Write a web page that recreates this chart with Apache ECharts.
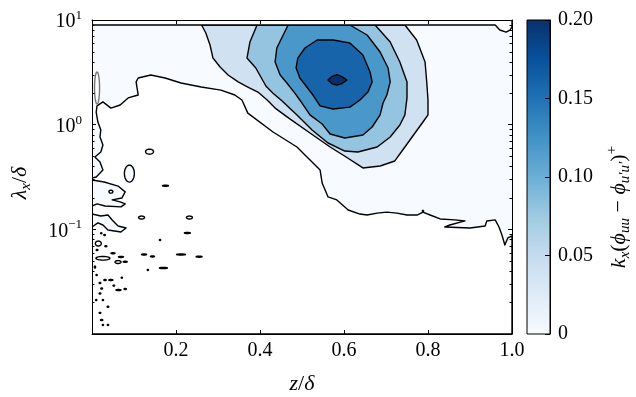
<!DOCTYPE html>
<html><head><meta charset="utf-8">
<script src="https://cdn.jsdelivr.net/npm/echarts@6/dist/echarts.min.js"></script>
<style>html,body{margin:0;padding:0;background:#fff}#c{width:636px;height:397px}</style>
</head><body><div id="c"></div>
<script>
// ---------- axes / ticks ----------
const xTickValues = [0, 0.2, 0.4, 0.6, 0.8, 1.0];
const yDecades = [0.01, 0.1, 1, 10];
const yMinorMantissas = [2, 3, 4, 5, 6, 7, 8, 9];
const colorbarTicks = [0, 0.05, 0.10, 0.15, 0.20];
const levelColors = ['#f7fbff', '#d0e1f2', '#94c4df', '#4a98c9', '#1764ab', '#08306b'];
const bluesStops = ['#f7fbff','#deebf7','#c6dbef','#9ecae1','#6baed6','#4292c6','#2171b5','#08519c','#08306b'];

// ---------- contour data: [z/delta, lambda_x/delta] ----------
// region where the value is below 0 (unfilled, white)
const negativeRegion = [[0,0.309],[0.010,0.316],[0.026,0.369],[0.019,0.440],[0.007,0.491],[0.021,0.548],[0.026,0.640],[0.019,0.763],[0.021,0.889],[0.014,1.060],[0.010,1.32],[0.012,1.51],[0.026,1.65],[0.045,1.44],[0.067,1.54],[0.086,1.80],[0.110,1.92],[0.105,2.56],[0.110,2.79],[0.140,2.98],[0.174,2.79],[0.212,2.50],[0.260,2.29],[0.307,2.14],[0.340,1.92],[0.357,1.72],[0.371,1.29],[0.431,0.851],[0.488,0.612],[0.543,0.369],[0.548,0.277],[0.562,0.204],[0.583,0.191],[0.610,0.153],[0.638,0.140],[0.655,0.137],[0.679,0.143],[0.702,0.146],[0.726,0.143],[0.750,0.137],[0.774,0.137],[0.788,0.146],[0.805,0.137],[0.829,0.1257],[0.864,0.123],[0.888,0.1203],[0.852,0.110],[0.840,0.1053],[0.900,0.1030],[0.936,0.1076],[0.940,0.1203],[0.960,0.123],[0.969,0.1053],[0.976,0.0883],[0.983,0.0708],[0.990,0.0827],[1.0,0.0864],[1.0,0.01],[0,0.01]];
// positive (lowest band) lobes along the wall
const wallLobeA = [[0,0.296],[0.029,0.283],[0.062,0.259],[0.079,0.228],[0.071,0.199],[0.048,0.191],[0.067,0.183],[0.079,0.175],[0.069,0.164],[0.031,0.167],[0.012,0.175],[0,0.167]];
const wallLobeB = [[0,0.140],[0.021,0.134],[0.038,0.137],[0.048,0.123],[0.062,0.1076],[0.081,0.1030],[0.069,0.0944],[0.038,0.0986],[0.026,0.110],[0.014,0.1151],[0,0.1053]];
// small positive islands: [z centre, lambda centre, half width in z, half height in decades]
const positiveIslands = [[0.137,0.552,0.0095,0.0239],[0.089,0.341,0.0119,0.0812],[0.175,0.261,0.0071,0.005],[0.118,0.1296,0.0071,0.0143],[0.232,0.1296,0.0071,0.0143],[0.227,0.0923,0.0071,0.005],[0.162,0.0791,0.0015,0.005],[0.124,0.0575,0.006,0.005],[0.144,0.0551,0.0048,0.005],[0.212,0.0575,0.0107,0.005],[0.255,0.0548,0.0071,0.005],[0.170,0.0427,0.0095,0.006],[0.133,0.0409,0.0015,0.005],[0.071,0.0345,0.0015,0.005],[0.015,0.0732,0.0071,0.0239],[0.026,0.0529,0.0167,0.0172],[0.050,0.0591,0.0048,0.005],[0.069,0.0545,0.006,0.005],[0.062,0.0487,0.0071,0.0143],[0.079,0.0490,0.0048,0.005],[0.031,0.0328,0.0028,0.005],[0.045,0.0328,0.0048,0.005],[0.063,0.0263,0.006,0.005],[0.079,0.0269,0.0028,0.005],[0.019,0.0307,0.002,0.006],[0.023,0.0272,0.002,0.006],[0.019,0.0244,0.002,0.006],[0.026,0.0211,0.0015,0.005],[0.038,0.0182,0.002,0.005],[0.023,0.0136,0.0028,0.005],[0.026,0.0122,0.0015,0.005],[0.038,0.0122,0.0015,0.005],[0.007,0.0436,0.0015,0.0096],[0.011,0.0366,0.0015,0.005],[0.022,0.0917,0.0015,0.005],[0.030,0.0883,0.002,0.005],[0.788,0.150,0.0015,0.005],[0.012,0.0635,0.002,0.005],[0.033,0.069,0.0024,0.005],[0.052,0.029,0.002,0.005],[0.019,0.0159,0.002,0.005],[0.010,0.0211,0.0015,0.005]];
// small negative holes
const negativeHoles = [[0.012,2.24,0.006,0.153],[0.045,0.229,0.0048,0.0143]];
// filled bands (outer -> inner)
const band2 = [[0.261,8.96],[0.745,8.96],[0.773,6.44],[0.793,3.97],[0.797,2.56],[0.800,1.72],[0.800,1.24],[0.788,1.060],[0.769,0.832],[0.745,0.612],[0.721,0.450],[0.686,0.403],[0.645,0.386],[0.605,0.491],[0.567,0.612],[0.519,0.832],[0.471,1.136],[0.436,1.44],[0.417,1.72],[0.395,2.05],[0.371,2.29],[0.348,2.56],[0.324,2.98],[0.305,3.56],[0.288,4.33],[0.281,5.77],[0.271,7.51]];
const band3 = [[0.393,8.96],[0.674,8.96],[0.710,6.16],[0.733,3.97],[0.750,2.56],[0.750,1.80],[0.745,1.24],[0.733,0.993],[0.710,0.763],[0.679,0.612],[0.633,0.548],[0.602,0.560],[0.562,0.668],[0.524,0.889],[0.488,1.24],[0.450,1.72],[0.431,2.00],[0.414,2.34],[0.390,3.48],[0.369,4.33],[0.376,6.16]];
const band4 = [[0.467,8.96],[0.614,8.96],[0.655,7.19],[0.686,4.95],[0.705,3.48],[0.710,2.56],[0.702,1.92],[0.693,1.61],[0.686,1.24],[0.667,0.950],[0.645,0.797],[0.602,0.746],[0.567,0.814],[0.548,1.015],[0.519,1.24],[0.500,1.61],[0.483,2.00],[0.464,2.50],[0.448,2.98],[0.436,3.97],[0.440,5.40]];
const band5 = [[0.490,4.33],[0.507,5.40],[0.536,6.44],[0.574,6.44],[0.614,6.03],[0.645,4.63],[0.662,3.19],[0.667,2.56],[0.657,2.05],[0.638,1.72],[0.614,1.47],[0.574,1.41],[0.543,1.51],[0.526,1.92],[0.495,2.79],[0.486,3.48]];
const band6 = [[0.562,2.67],[0.571,2.88],[0.583,3.01],[0.595,2.88],[0.607,2.67],[0.595,2.47],[0.583,2.39],[0.571,2.47]];
// no data above lambda = 8.96 (white strip under the upper frame)
const noDataTop = [[0,10],[1,10],[1,8.58],[0.995,8.02],[0.986,7.67],[0.971,8.02],[0.960,8.96],[0,8.96]];

// ---------- build shapes ----------
const FONT = "'Liberation Serif','DejaVu Serif',serif";
const LW = 1.4;
const shapes = [];
shapes.push({pts: [[0,0.01],[1,0.01],[1,10],[0,10]], fill: levelColors[0], stroke: null, lw: 0});
shapes.push({pts: negativeRegion, fill: '#ffffff', stroke: '#000', lw: LW});
shapes.push({pts: wallLobeA, fill: levelColors[0], stroke: '#000', lw: LW});
shapes.push({pts: wallLobeB, fill: levelColors[0], stroke: '#000', lw: LW});
positiveIslands.forEach(e => shapes.push({ellipse: e, fill: levelColors[0], stroke: '#000', lw: LW}));
negativeHoles.forEach((e, i) => shapes.push({ellipse: e, fill: '#ffffff', stroke: i === 0 ? '#777' : '#000', lw: LW}));
[band2, band3, band4, band5, band6].forEach((b, i) => shapes.push({pts: b, fill: levelColors[i + 1], stroke: '#000', lw: LW}));
shapes.push({pts: noDataTop, fill: '#ffffff', stroke: '#000', lw: LW});

function renderShape(params, api) {
  const s = shapes[params.dataIndex];
  let pts;
  if (s.ellipse) {
    const [zc, lc, rz, rd] = s.ellipse;
    const c = api.coord([zc, lc]);
    const rx = Math.abs(api.coord([zc + rz, lc])[0] - c[0]);
    const ry = Math.abs(c[1] - api.coord([zc, lc * Math.pow(10, rd)])[1]);
    pts = [];
    for (let k = 0; k < 28; k++) {
      const a = k / 28 * 2 * Math.PI;
      pts.push([c[0] + rx * Math.cos(a), c[1] + ry * Math.sin(a)]);
    }
  } else {
    pts = s.pts.map(p => api.coord(p));
  }
  return {type: 'polygon', shape: {points: pts},
    style: {fill: s.fill, stroke: s.stroke || 'none', lineWidth: s.lw, lineJoin: 'round'}};
}

function renderMinorTicks(params, api) {
  const children = [];
  yDecades.slice(0, 3).forEach(d => yMinorMantissas.forEach(m => {
    const v = d * m;
    const l = api.coord([0, v]);
    const r = api.coord([1, v]);
    const y = Math.round(l[1]) + 0.5;
    children.push({type: 'line', shape: {x1: l[0], y1: y, x2: l[0] + 2.5, y2: y}, style: {stroke: '#000', lineWidth: 1}});
    children.push({type: 'line', shape: {x1: r[0], y1: y, x2: r[0] - 2.5, y2: y}, style: {stroke: '#000', lineWidth: 1}});
  }));
  return {type: 'group', children};
}

function renderColorbar(params, api) {
  const a = api.coord([0, colorbarTicks[0]]);
  const b = api.coord([1, colorbarTicks[colorbarTicks.length - 1]]);
  const stops = bluesStops.map((c, i) => ({offset: i / (bluesStops.length - 1), color: c}));
  return {type: 'rect', shape: {x: a[0], y: b[1], width: b[0] - a[0], height: a[1] - b[1]},
    style: {fill: new echarts.graphic.LinearGradient(0, 1, 0, 0, stops), stroke: '#000', lineWidth: 1}};
}

const axisLine = {show: true, onZero: false, lineStyle: {color: '#000', width: 1}};
const chart = echarts.init(document.getElementById('c'), null, {renderer: 'canvas'});
chart.setOption({
  animation: false,
  backgroundColor: '#fff',
  grid: [
    {left: 92, top: 20, width: 420, height: 314},
    {left: 527, top: 20, width: 23, height: 314}
  ],
  xAxis: [
    {gridIndex: 0, type: 'value', min: xTickValues[0], max: xTickValues[xTickValues.length - 1], interval: 0.2,
      position: 'bottom', z: 10, axisLine,
      axisTick: {show: true, inside: true, length: 4, lineStyle: {color: '#000'}},
      axisLabel: {showMinLabel: false, margin: 7, fontSize: 20, fontFamily: FONT, color: '#000', formatter: v => v.toFixed(1)},
      splitLine: {show: false}},
    {gridIndex: 0, type: 'value', min: 0, max: 1, interval: 0.2, position: 'top', z: 10, axisLine,
      axisTick: {show: true, inside: true, length: 4, lineStyle: {color: '#000'}},
      axisLabel: {show: false}, splitLine: {show: false}},
    {gridIndex: 1, type: 'value', min: 0, max: 1, show: false}
  ],
  yAxis: [
    {gridIndex: 0, type: 'log', logBase: 10, min: yDecades[0], max: yDecades[yDecades.length - 1], position: 'left', z: 10, axisLine,
      axisTick: {show: true, inside: true, length: 4, lineStyle: {color: '#000'}},
      axisLabel: {showMinLabel: false, margin: 10, color: '#000', padding: [4, 0, 0, 0],
        formatter: v => { const e = Math.round(Math.log10(v)); return '{b|10}{s|' + (e < 0 ? '\u2212' + (-e) : e) + '}'; },
        rich: {b: {fontSize: 20, fontFamily: FONT, color: '#000', lineHeight: 26},
               s: {fontSize: 13, fontFamily: FONT, color: '#000', lineHeight: 13, verticalAlign: 'top'}}},
      splitLine: {show: false}, minorTick: {show: false}},
    {gridIndex: 0, type: 'log', logBase: 10, min: 0.01, max: 10, position: 'right', z: 10, axisLine,
      axisTick: {show: true, inside: true, length: 4, lineStyle: {color: '#000'}},
      axisLabel: {show: false}, splitLine: {show: false}},
    {gridIndex: 1, type: 'value', min: colorbarTicks[0], max: colorbarTicks[colorbarTicks.length - 1], interval: 0.05,
      position: 'right', z: 10, axisLine,
      axisTick: {show: true, inside: true, length: 5, lineStyle: {color: '#000'}},
      axisLabel: {margin: 8, fontSize: 20, fontFamily: FONT, color: '#000', padding: [5, 0, 0, 0],
        formatter: v => (Math.abs(v) < 1e-9 ? '0' : v.toFixed(2))},
      splitLine: {show: false}}
  ],
  series: [
    {type: 'custom', xAxisIndex: 0, yAxisIndex: 0, clip: true, z: 2, silent: true,
      renderItem: renderShape, data: shapes.map(() => [0.5, 1])},
    {type: 'custom', xAxisIndex: 0, yAxisIndex: 0, z: 11, silent: true,
      renderItem: renderMinorTicks, data: [[0.5, 1]]},
    {type: 'custom', xAxisIndex: 2, yAxisIndex: 2, z: 2, silent: true,
      renderItem: renderColorbar, data: [[0.5, 0.1]]}
  ],
  graphic: [
    {type: 'text', x: 302, y: 384, z: 20,
      style: {text: '{i|z}{n|/}{i|δ}', align: 'center', verticalAlign: 'middle',
        rich: {i: {fontSize: 22, fontStyle: 'italic', fontFamily: FONT, fill: '#000'}, n: {fontSize: 22, fontFamily: FONT, fill: '#000'}}}},
    {type: 'text', x: 20, y: 183, rotation: Math.PI / 2, z: 20,
      style: {text: '{i|λ}{ib|x}{n|/}{i|δ}', align: 'center', verticalAlign: 'middle',
        rich: {i: {fontSize: 22, fontStyle: 'italic', fontFamily: FONT, fill: '#000', lineHeight: 28},
               n: {fontSize: 22, fontFamily: FONT, fill: '#000', lineHeight: 28},
               ib: {fontSize: 15, fontStyle: 'italic', fontFamily: FONT, fill: '#000', lineHeight: 15, verticalAlign: 'bottom'}}}},
    {type: 'text', x: 619, y: 207, rotation: Math.PI / 2, z: 20,
      style: {text: '{i|k}{ib|x}{n|(}{i|ϕ}{ib|uu}{n| \u2212 }{i|ϕ}{ib|u\u2032u\u2032}{n|)}{sp|+}', align: 'center', verticalAlign: 'middle',
        rich: {i: {fontSize: 22, fontStyle: 'italic', fontFamily: FONT, fill: '#000', lineHeight: 28},
               n: {fontSize: 22, fontFamily: FONT, fill: '#000', lineHeight: 28},
               ib: {fontSize: 15, fontStyle: 'italic', fontFamily: FONT, fill: '#000', lineHeight: 15, verticalAlign: 'bottom'},
               sp: {fontSize: 15, fontFamily: FONT, fill: '#000', lineHeight: 15, verticalAlign: 'top'}}}}
  ]
});
</script></body></html>
